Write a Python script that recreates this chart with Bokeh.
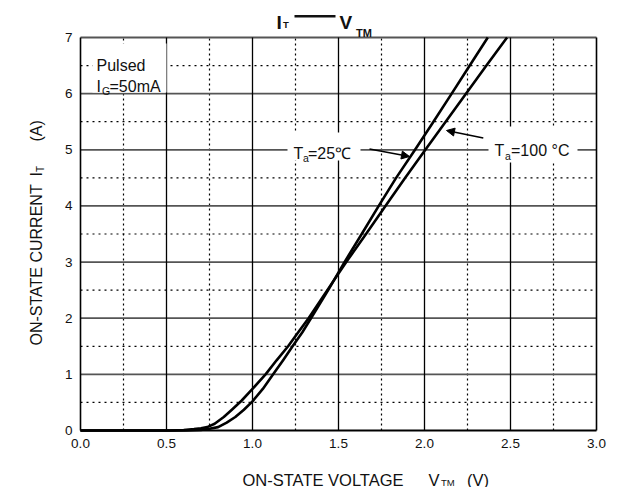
import math
from bokeh.plotting import figure
from bokeh.models import Label, Arrow, NormalHead, Range1d
from bokeh.core.properties import value
from bokeh.embed import file_html
from bokeh.resources import INLINE

# ---- data ----
v_25 = [0.00, 0.62, 0.70, 0.75, 0.80, 0.85, 0.90, 0.95, 1.00, 1.06, 1.12,
        1.18, 1.233, 1.29, 1.34, 1.44, 1.535, 1.635, 1.734, 1.835, 1.945,
        2.052, 2.158, 2.263, 2.368]
i_25 = [0.0, 0.0, 0.01, 0.03, 0.06, 0.14, 0.24, 0.37, 0.52, 0.74, 1.00,
        1.26, 1.50, 1.75, 2.00, 2.50, 3.00, 3.50, 4.00, 4.50, 5.00,
        5.50, 6.00, 6.50, 7.00]

v_100 = [0.00, 0.52, 0.60, 0.66, 0.70, 0.737, 0.78, 0.833, 0.88, 0.936, 1.00,
         1.076, 1.14, 1.207, 1.266, 1.326, 1.435, 1.545, 1.66, 1.773, 1.888,
         2.005, 2.123, 2.241, 2.36, 2.48]
i_100 = [0.0, 0.0, 0.01, 0.025, 0.04, 0.06, 0.12, 0.24, 0.37, 0.53, 0.74,
         1.00, 1.25, 1.50, 1.75, 2.00, 2.50, 3.00, 3.50, 4.00, 4.50,
         5.00, 5.50, 6.00, 6.50, 7.00]

x_ticks = [0.0, 0.5, 1.0, 1.5, 2.0, 2.5, 3.0]
x_tick_labels = ["0.0", "0.5", "1.0", "1.5", "2.0", "2.5", "3.0"]
y_ticks = [0, 1, 2, 3, 4, 5, 6, 7]
y_tick_labels = ["0", "1", "2", "3", "4", "5", "6", "7"]
x_minor = [0.25, 0.75, 1.25, 1.75, 2.25, 2.75]
y_minor = [0.5, 1.5, 2.5, 3.5, 4.5, 5.5, 6.5]

title_parts = ["I", "T", "V", "TM"]
x_label = ["ON-STATE VOLTAGE", "V", "TM", "(V)"]
y_label = ["ON-STATE CURRENT", "I", "T", "(A)"]
note_lines = ["Pulsed", "I", "G", "=50mA"]
label_25 = ["T", "a", "=25\u2103"]
label_100 = ["T", "a", "=100 \u00b0C"]

FONT = "Liberation Sans"
INK = "#111111"

# ---- figure: the frame covers the whole canvas, the chart box is drawn ----
W, H = 619, 487
BOX_L, BOX_R, BOX_T, BOX_B = 80, 596, 37, 430   # chart box in pixels
XMIN, XMAX = x_ticks[0], x_ticks[-1]
YMIN, YMAX = y_ticks[0], y_ticks[-1]
PXV = (BOX_R - BOX_L) / (XMAX - XMIN)
PYA = (BOX_B - BOX_T) / (YMAX - YMIN)

def dx(px):
    return XMIN + (px - BOX_L) / PXV
def dy(py):
    return YMIN + (BOX_B - py) / PYA

p = figure(width=W, height=H, output_backend="svg", toolbar_location=None,
           x_range=Range1d(dx(0), dx(W)), y_range=Range1d(dy(H), dy(0)),
           min_border=0, background_fill_color="white",
           border_fill_color="white")
p.outline_line_color = None
p.axis.visible = False
p.grid.visible = False

# ---- grid: dotted minor lines ----
p.segment(x0=[XMIN] * len(y_minor), x1=[XMAX] * len(y_minor), y0=y_minor,
          y1=y_minor, line_color="black", line_width=1.2, line_dash="2 4")
p.segment(x0=x_minor, x1=x_minor, y0=[YMIN] * len(x_minor),
          y1=[YMAX] * len(x_minor), line_color="black", line_width=1.2,
          line_dash="2 3")

# ---- grid: solid major lines ----
h_inner = [y for y in y_ticks if y != YMIN]
p.segment(x0=[XMIN] * len(h_inner), x1=[XMAX] * len(h_inner), y0=h_inner,
          y1=h_inner, line_color="#555555", line_width=1.8)
p.segment(x0=[XMIN], x1=[XMAX], y0=[YMIN], y1=[YMIN], line_color="black",
          line_width=2.0)
v_inner = [x for x in x_ticks if x not in (XMIN, XMAX)]
p.segment(x0=v_inner, x1=v_inner, y0=[YMIN] * len(v_inner),
          y1=[YMAX] * len(v_inner), line_color="black", line_width=1.3)
p.segment(x0=[XMIN, XMAX], x1=[XMIN, XMAX], y0=[YMIN, YMIN],
          y1=[YMAX, YMAX], line_color="black", line_width=1.6)

# ---- white boxes behind the annotation texts ----
boxes = [(92, 166, 43, 92), (287, 360, 132, 160), (488, 577, 126, 162)]
p.quad(left=[dx(b[0]) for b in boxes], right=[dx(b[1]) for b in boxes],
       top=[dy(b[2]) for b in boxes], bottom=[dy(b[3]) for b in boxes],
       fill_color="white", line_color=None)

# ---- curves ----
p.line(v_25, i_25, line_color="black", line_width=2.6, line_join="round")
p.line(v_100, i_100, line_color="black", line_width=2.6, line_join="round")

# ---- tick labels ----
p.text(x=x_ticks, y=[YMIN] * len(x_ticks), text=x_tick_labels,
       text_font=value(FONT), text_font_size="13.5px", text_color=INK,
       text_align="center", text_baseline="top", y_offset=8)
p.text(x=[XMIN] * len(y_ticks), y=y_ticks, text=y_tick_labels,
       text_font=value(FONT), text_font_size="13.5px", text_color=INK,
       text_align="right", text_baseline="middle", x_offset=-8)

def lab(text, px, py, size, bold=False, angle=0.0):
    p.add_layout(Label(x=dx(px), y=dy(py), text=text, text_font=FONT,
                       text_font_size=size, text_color=INK,
                       text_font_style="bold" if bold else "normal",
                       text_baseline="alphabetic", text_align="left",
                       angle=angle))

# title
lab(title_parts[0], 276, 21.7, "19px", True)
lab(title_parts[1], 282.5, 23.5, "9.5px", True)
p.add_layout(Arrow(x_start=dx(294), y_start=dy(15.7), x_end=dx(335),
                   y_end=dy(15.7), start=None, end=None,
                   line_color=INK, line_width=2.5))
lab(title_parts[2], 339, 21.7, "19px", True)
lab(title_parts[3], 355.5, 32.5, "11px", True)

# x axis label
lab(x_label[0], 242, 479, "16.5px")
lab(x_label[1], 428, 479, "16.5px")
lab(x_label[2], 440.5, 481.5, "9.5px")
lab(x_label[3], 466.5, 479, "16.5px")

# y axis label (rotated)
ang = math.pi / 2
lab(y_label[0], 35.5, 345, "16px", angle=ang)
lab(y_label[1], 35.5, 176, "16px", angle=ang)
lab(y_label[2], 39.5, 171.5, "10px", angle=ang)
lab(y_label[3], 35.5, 141, "16px", angle=ang)

# pulsed note
lab(note_lines[0], 96, 64.5, "16px")
lab(note_lines[1], 96, 85.5, "16px")
lab(note_lines[2], 101.5, 90.5, "10.5px")
lab(note_lines[3], 109, 85.5, "16px")

# Ta labels
lab(label_25[0], 293, 152.8, "16px")
lab(label_25[1], 302.5, 157.5, "10.5px")
lab(label_25[2], 307.5, 152.8, "16px")

lab(label_100[0], 494, 149.5, "16px")
lab(label_100[1], 504.5, 155, "10.5px")
lab(label_100[2], 510.5, 149.5, "16px")

# arrows
for (x0, y0, x1, y1) in ((369, 148.5, 409, 156), (482.8, 137.4, 446, 130)):
    p.add_layout(Arrow(x_start=dx(x0), y_start=dy(y0), x_end=dx(x1),
                       y_end=dy(y1), line_color="black", line_width=1.5,
                       end=NormalHead(size=8, fill_color="black",
                                      line_color="black", line_width=1)))

open("out.html", "w").write(file_html(p, INLINE))
